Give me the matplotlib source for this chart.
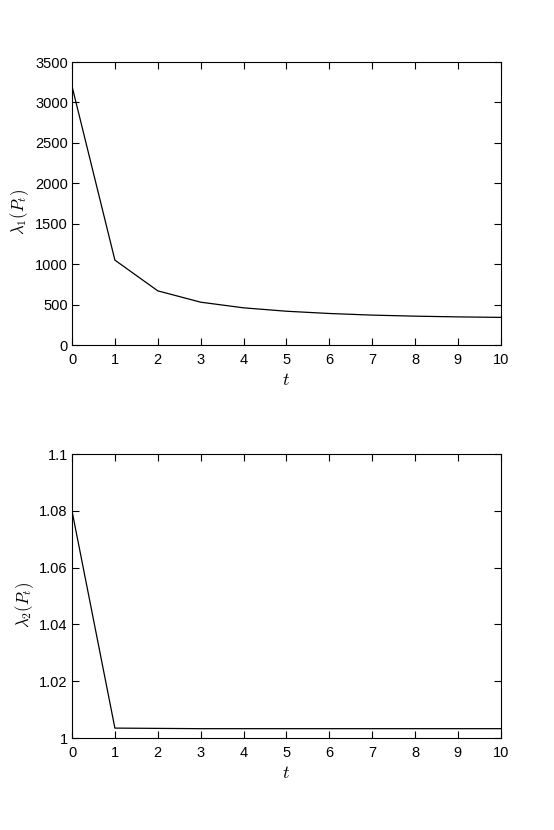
import numpy as np
import matplotlib
matplotlib.use('Agg')
import matplotlib.pyplot as plt

t = [0, 1, 2, 3, 4, 5, 6, 7, 8, 9, 10]
lam1 = [3200, 1050, 670, 530, 460, 418, 390, 370, 357, 348, 342]
lam2 = [1.08, 1.0035, 1.0034, 1.0033, 1.0033, 1.0033, 1.0033, 1.0033, 1.0033, 1.0033, 1.0033]

plt.rcParams['font.family'] = ['Liberation Sans', 'DejaVu Sans']
plt.rcParams['mathtext.fontset'] = 'cm'

fig = plt.figure(figsize=(5.54, 8.3), dpi=100)
ax1 = fig.add_axes([0.130, 0.5843, 0.774, 0.341])
ax2 = fig.add_axes([0.130, 0.1108, 0.774, 0.342])

ax1.plot(t, lam1, color='k', lw=0.9)
ax1.set_xlim(0, 10)
ax1.set_ylim(0, 3500)
ax1.set_yticks(np.arange(0, 3501, 500))
ax1.set_ylabel(r'$\lambda_1(P_t)$', fontsize=12)
ax1.yaxis.set_label_coords(-0.095, 0.47)

ax2.plot(t, lam2, color='k', lw=0.9)
ax2.set_xlim(0, 10)
ax2.set_ylim(1, 1.1)
ax2.set_yticks([1, 1.02, 1.04, 1.06, 1.08, 1.1])
ax2.set_yticklabels(['1', '1.02', '1.04', '1.06', '1.08', '1.1'])
ax2.set_ylabel(r'$\lambda_2(P_t)$', fontsize=12)
ax2.yaxis.set_label_coords(-0.085, 0.47)

for ax in (ax1, ax2):
    ax.set_xticks(range(0, 11))
    ax.set_xlabel(r'$t$', fontsize=13, labelpad=3)
    ax.tick_params(direction='in', top=True, right=True, length=5, width=0.8,
                   labelsize=10.5)
    ax.tick_params(axis='x', pad=6)
    ax.tick_params(axis='y', pad=3)
    for s in ax.spines.values():
        s.set_linewidth(0.8)

fig.savefig('out.png', dpi=100)
